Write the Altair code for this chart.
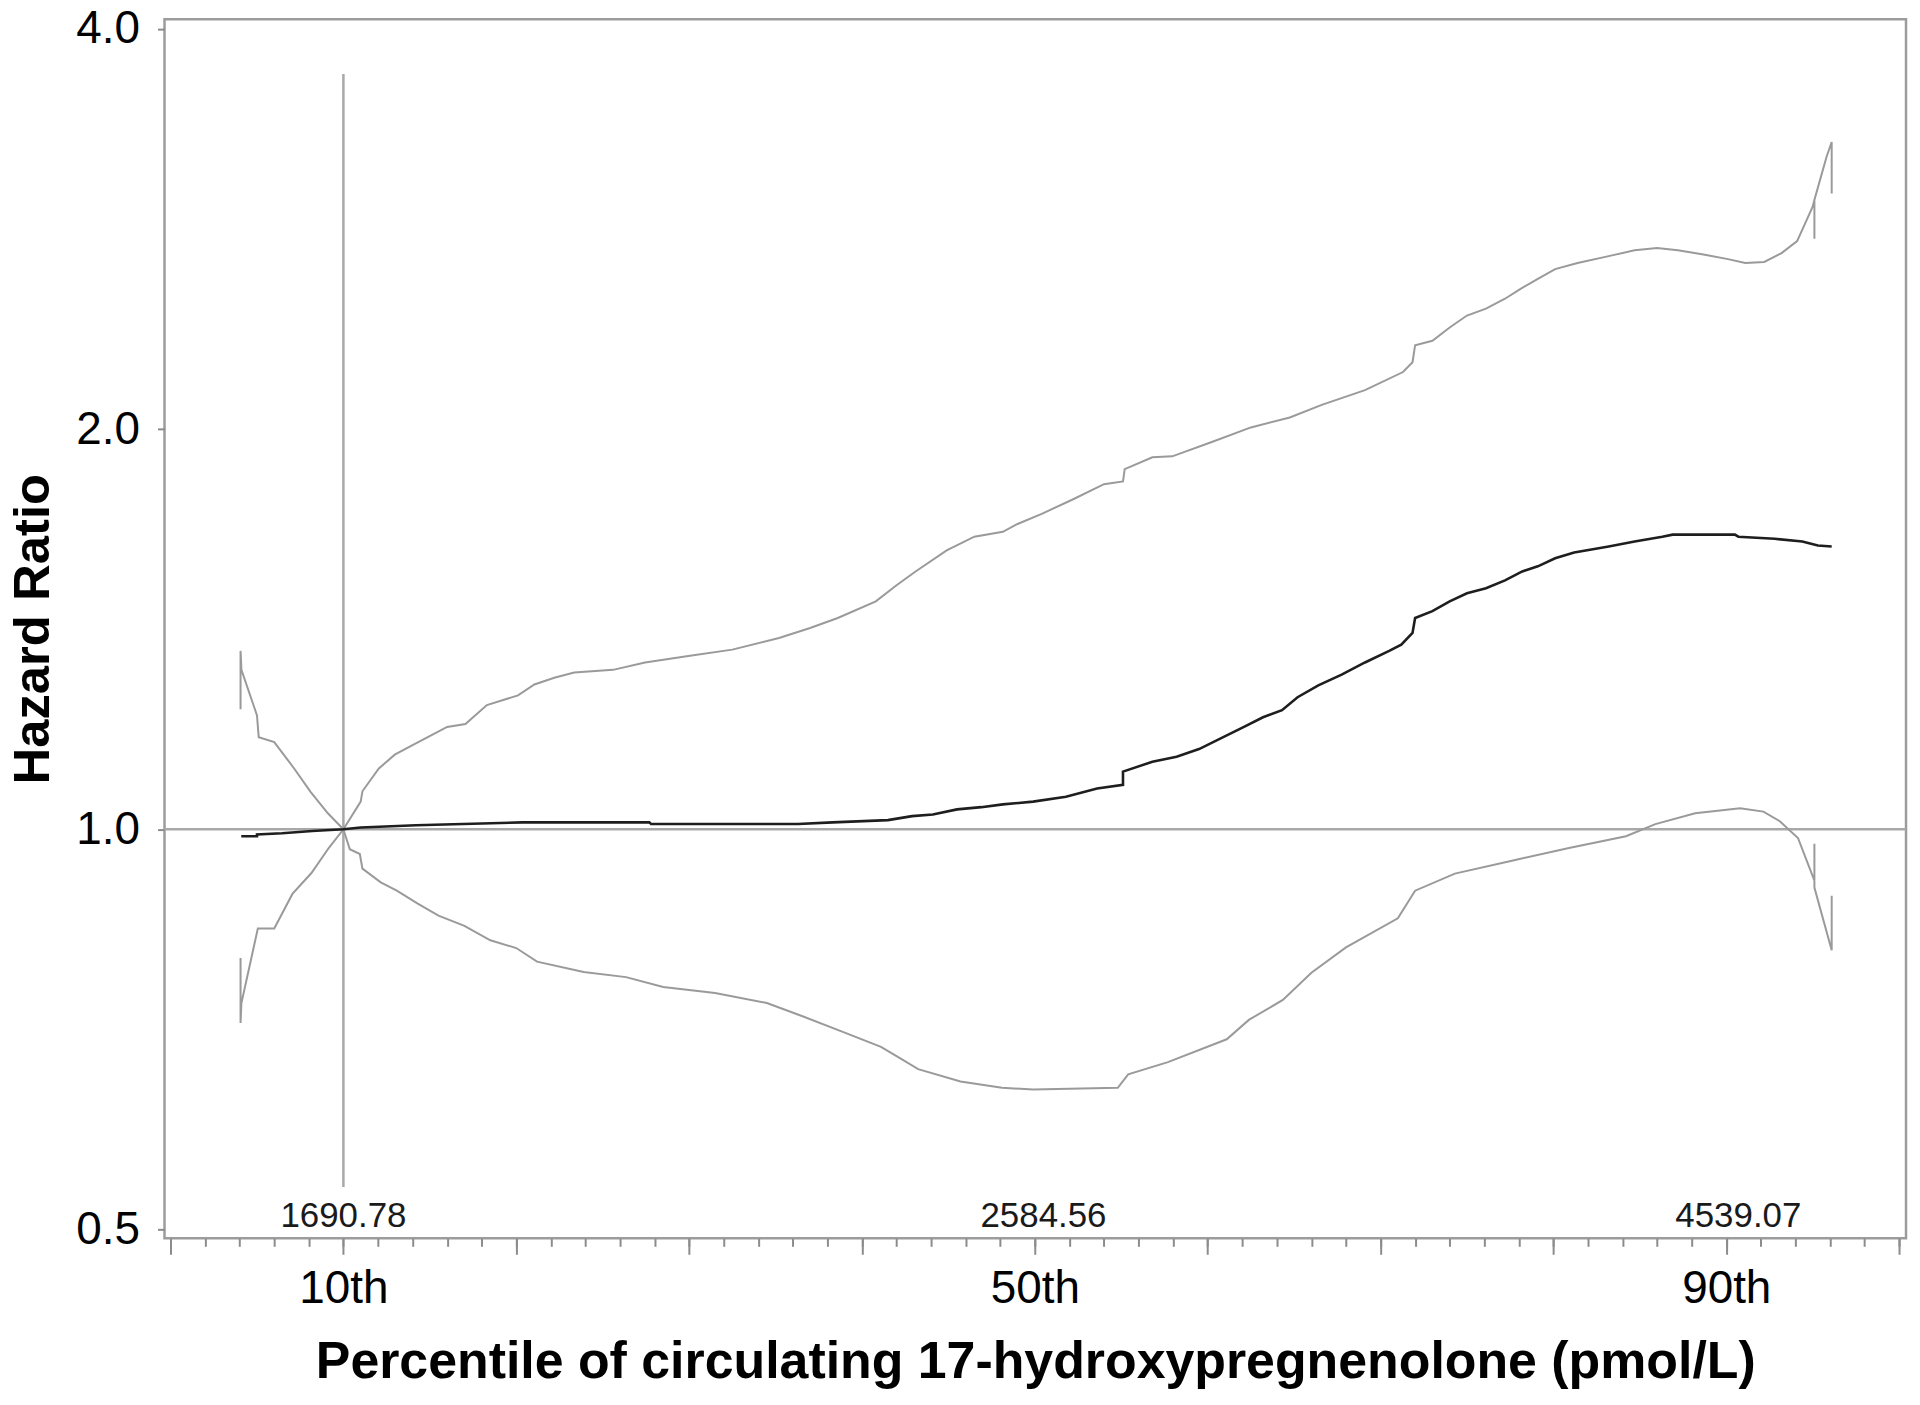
import altair as alt
import pandas as pd

FONT = "Liberation Sans"

# ---- Hazard ratio estimate (black) ----
EST_P = [4.09, 5.0, 5.0, 6.45, 8.2, 10.0, 11.0, 14.2, 20.35, 27.7, 27.8, 36.3, 38.3, 41.5, 42.9, 44.1,
         45.5, 46.9, 48.15, 49.9, 51.8, 53.6, 55.1, 55.1, 56.8, 58.2, 59.5, 60.9, 62.1, 63.2, 64.3, 65.2,
         66.4, 67.75, 69.1, 70.5, 71.2, 71.85, 72.0, 73.0, 74.0, 75.0, 76.1, 77.2, 78.2, 79.1, 80.1, 81.2,
         83.2, 84.7, 86.3, 86.9, 90.5, 90.7, 92.8, 94.4, 95.3, 96.1]
EST_HR = [0.988, 0.988, 0.991, 0.993, 0.997, 1.0, 1.003, 1.007, 1.012, 1.012, 1.009, 1.009, 1.012, 1.016,
          1.023, 1.026, 1.035, 1.039, 1.044, 1.049, 1.058, 1.073, 1.080, 1.105, 1.124, 1.134, 1.149, 1.173,
          1.194, 1.214, 1.229, 1.257, 1.283, 1.307, 1.335, 1.362, 1.377, 1.405, 1.442, 1.459, 1.484, 1.505,
          1.518, 1.539, 1.563, 1.577, 1.599, 1.615, 1.632, 1.646, 1.660, 1.666, 1.666, 1.660, 1.654, 1.646,
          1.635, 1.632]

# ---- Upper confidence limit ----
UL_P = [4.05, 4.05, 4.1, 5.0, 5.1, 6.0, 7.15, 8.1, 9.1, 10.0]
UL_HR = [1.231, 1.362, 1.318, 1.218, 1.173, 1.163, 1.111, 1.067, 1.028, 1.0]

UR_P = [10.0, 11.0, 11.1, 12.05, 12.97, 14.0, 15.1, 16.0, 17.06, 18.3, 20.1, 21.05, 22.2, 23.35, 25.6,
        27.45, 30.15, 32.5, 35.2, 37.0, 38.6, 40.8, 42.0, 43.1, 44.9, 46.5, 48.15, 49.0, 50.4, 52.25, 54.0,
        55.1, 55.2, 56.8, 57.95, 60.2, 62.5, 64.75, 66.6, 69.1, 71.3, 71.85, 72.0, 73.0, 74.0, 75.0, 76.1,
        77.2, 78.1, 79.1, 80.1, 81.4, 83.2, 84.7, 86.0, 87.2, 88.6, 90.1, 91.1, 92.2, 93.2, 94.1, 95.0,
        95.1, 95.1, 95.1, 95.8, 96.1, 96.1]
UR_HR = [1.0, 1.049, 1.068, 1.111, 1.138, 1.157, 1.177, 1.194, 1.200, 1.240, 1.261, 1.285, 1.300, 1.312,
         1.318, 1.335, 1.351, 1.365, 1.393, 1.417, 1.442, 1.484, 1.526, 1.563, 1.621, 1.660, 1.674, 1.697,
         1.727, 1.772, 1.818, 1.827, 1.866, 1.905, 1.908, 1.955, 2.006, 2.041, 2.086, 2.140, 2.208, 2.246,
         2.313, 2.331, 2.385, 2.435, 2.464, 2.507, 2.550, 2.595, 2.639, 2.667, 2.699, 2.727, 2.737, 2.727,
         2.708, 2.685, 2.667, 2.672, 2.713, 2.770, 2.94, 2.975, 2.781, 2.975, 3.205, 3.289, 3.008]

# ---- Lower confidence limit ----
LL_P = [4.05, 4.05, 4.1, 5.05, 6.0, 7.05, 8.15, 9.15, 10.0]
LL_HR = [0.800, 0.715, 0.740, 0.842, 0.842, 0.894, 0.927, 0.968, 1.0]

LR_P = [10.0, 10.37, 10.95, 11.1, 12.16, 13.09, 14.3, 15.5, 17.0, 18.5, 20.0, 21.2, 23.9, 26.35, 28.5,
        31.5, 34.5, 36.6, 39.0, 41.1, 42.0, 43.25, 45.7, 48.1, 49.9, 54.8, 55.4, 57.7, 61.1, 62.4, 64.35,
        66.0, 68.0, 71.0, 72.0, 74.3, 77.6, 80.9, 84.2, 85.9, 88.2, 90.8, 92.15, 93.1, 94.15, 95.1, 95.1,
        95.1, 96.1, 96.1]
LR_HR = [1.0, 0.966, 0.958, 0.934, 0.912, 0.899, 0.879, 0.861, 0.846, 0.825, 0.814, 0.795, 0.781, 0.774,
         0.761, 0.753, 0.740, 0.723, 0.703, 0.686, 0.675, 0.660, 0.646, 0.639, 0.637, 0.639, 0.654, 0.668,
         0.695, 0.719, 0.744, 0.780, 0.815, 0.857, 0.899, 0.926, 0.947, 0.968, 0.988, 1.009, 1.028, 1.037,
         1.031, 1.014, 0.985, 0.915, 0.975, 0.904, 0.811, 0.891]

# ---- Annotations ----
REF_P = 10.0
REF_LINE_LO = 0.538
REF_LINE_HI = 3.70
VAL_P = [10.0, 50.5, 90.7]
VAL_TEXT = ["1690.78", "2584.56", "4539.07"]
VAL_HR = 0.512
Y_TICKS = [0.5, 1.0, 2.0, 4.0]
X_MINOR = list(range(0, 101, 2))
X_MAJOR = list(range(0, 101, 10))
X_LABELED = [10, 50, 90]


def frame(name, ps, hrs):
    return pd.DataFrame({"p": ps, "hr": hrs, "series": name, "idx": list(range(len(ps)))})


ci = pd.concat([frame("upper_left", UL_P, UL_HR), frame("upper_right", UR_P, UR_HR),
                frame("lower_left", LL_P, LL_HR), frame("lower_right", LR_P, LR_HR)],
               ignore_index=True)
est = frame("estimate", EST_P, EST_HR)
vals = pd.DataFrame({"p": VAL_P, "hr": [VAL_HR] * len(VAL_P), "label": VAL_TEXT})
vref = pd.DataFrame({"p": [REF_P], "lo": [REF_LINE_LO], "hi": [REF_LINE_HI]})
href = pd.DataFrame({"p": [-0.35], "p2": [100.4], "hr": [1.0]})

x_scale = alt.Scale(domain=[-0.35, 100.4], nice=False, zero=False)
y_scale = alt.Scale(type="log", domain=[0.4923, 4.069], nice=False)

TICK_COLOR = "#8c8c8c"
GRAY = "#9a9a9a"

minor_axis = alt.Axis(orient="bottom", values=X_MINOR, tickSize=8, tickColor=TICK_COLOR, tickWidth=2,
                      labels=False, domain=False, grid=False, title=None)
label_cond = " || ".join(f"datum.value == {v}" for v in X_LABELED)
major_axis = alt.Axis(orient="bottom", values=X_MAJOR, tickSize=16, tickColor=TICK_COLOR, tickWidth=2,
                      labelExpr=f"({label_cond}) ? datum.value + 'th' : ''",
                      labelFont=FONT, labelFontSize=46, labelColor="black", labelPadding=12,
                      labelOverlap=False, labelFlush=False, domain=False, grid=False,
                      title="Percentile of circulating 17-hydroxypregnenolone (pmol/L)",
                      titleFont=FONT, titleFontSize=52, titleFontWeight="bold", titleColor="black",
                      titleY=124, titleBaseline="middle")
# identical y axis on every layer so the shared axis merges cleanly
y_axis = alt.Axis(orient="left", values=Y_TICKS, format=".1f", tickSize=7, tickColor=TICK_COLOR,
                  tickWidth=2, labelFont=FONT, labelFontSize=46, labelColor="black", labelPadding=18,
                  labelFlush=False, domain=False, grid=False,
                  title="Hazard Ratio", titleFont=FONT, titleFontSize=51, titleFontWeight="bold",
                  titleColor="black", titlePadding=16)

ci_layer = alt.Chart(ci).mark_line(color=GRAY, strokeWidth=2).encode(
    x=alt.X("p:Q", scale=x_scale, axis=minor_axis),
    y=alt.Y("hr:Q", scale=y_scale, axis=y_axis),
    detail="series:N",
    order="idx:Q",
)
href_layer = alt.Chart(href).mark_rule(color="#a8a8a8", strokeWidth=2.5).encode(
    x=alt.X("p:Q", scale=x_scale, axis=None),
    x2="p2:Q",
    y=alt.Y("hr:Q", scale=y_scale, axis=y_axis),
)
vref_layer = alt.Chart(vref).mark_rule(color="#a8a8a8", strokeWidth=2.5).encode(
    x=alt.X("p:Q", scale=x_scale, axis=major_axis),
    y=alt.Y("lo:Q", scale=y_scale, axis=y_axis),
    y2="hi:Q",
)
est_layer = alt.Chart(est).mark_line(color="#1e1e1e", strokeWidth=2.6).encode(
    x=alt.X("p:Q", scale=x_scale, axis=None),
    y=alt.Y("hr:Q", scale=y_scale, axis=y_axis),
    order="idx:Q",
)
text_layer = alt.Chart(vals).mark_text(font=FONT, fontSize=35, color="#1a1a1a", align="center",
                                       baseline="middle").encode(
    x=alt.X("p:Q", scale=x_scale, axis=None),
    y=alt.Y("hr:Q", scale=y_scale, axis=y_axis),
    text="label:N",
)

chart = alt.layer(href_layer, vref_layer, ci_layer, est_layer, text_layer).resolve_axis(
    x="independent"
).properties(
    width=1747, height=1223,
    autosize=alt.AutoSizeParams(type="none"),
    padding={"left": 157, "top": 9, "right": 6, "bottom": 160},
    background="white",
).configure_view(stroke="#9c9c9c", strokeWidth=2.5)

chart.save("out.html", embed_options={"renderer": "svg", "actions": False})
